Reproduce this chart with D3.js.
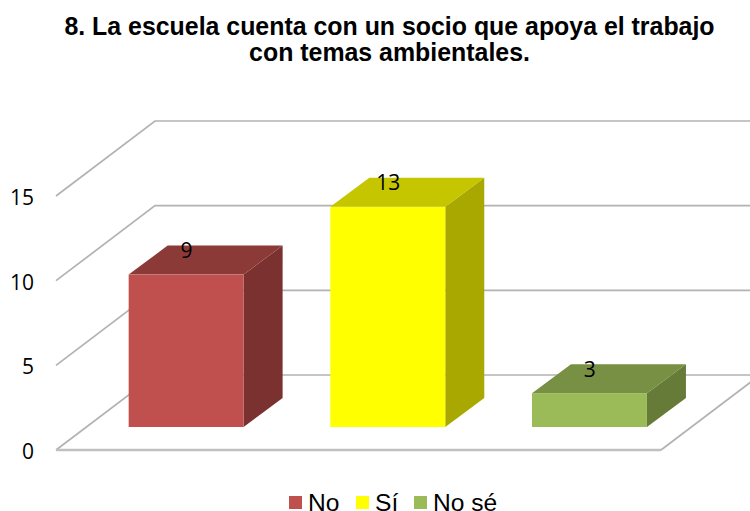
<!DOCTYPE html>
<html>
<head>
<meta charset="utf-8">
<style>html,body{margin:0;padding:0;background:#fff}svg{display:block}</style>
<script src="https://cdnjs.cloudflare.com/ajax/libs/d3/7.8.5/d3.min.js"></script>
</head>
<body>
<svg id="c" width="750" height="511"></svg>
<script>
const titleLines = ["8. La escuela cuenta con un socio que apoya el trabajo", "con temas ambientales."];
const categories = ["No", "Sí", "No sé"];
const barValues = [9, 13, 2];
const dataLabels = ["9", "13", "3"];
const yTicks = [0, 5, 10, 15];
const frontColors = ["#c0504d", "#ffff00", "#9bbb59"];
const topColors = ["#8c3a38", "#c6c600", "#779043"];
const sideColors = ["#7a312f", "#a8a800", "#667b38"];

const svg = d3.select("#c");
const left = 56, right = 661, base = 450;
const wallDx = 99, wallDy = -75;
const barDx = 39, barDy = -29, gapDx = 29.3, gapDy = -23;

const y = d3.scaleLinear().domain([0, 15]).range([base, 196]);
const x = d3.scaleBand().domain(categories).range([left + gapDx, right + gapDx]).paddingInner(0.43).paddingOuter(0.215);

const grid = "#b2b2b2";
const gGrid = svg.append("g").attr("fill", "none").attr("stroke", grid);
yTicks.forEach(t => {
  gGrid.append("path")
    .attr("stroke-width", 1.7)
    .attr("d", d3.line()([[left, y(t)], [left + wallDx, y(t) + wallDy], [750, y(t) + wallDy]]));
});
gGrid.append("path").attr("stroke-width", 2.6).attr("stroke", "#c0c0c0")
  .attr("d", d3.line()([[left, base], [right, base]]));
gGrid.append("path").attr("stroke-width", 1.7)
  .attr("d", d3.line()([[right, base], [right + wallDx, base + wallDy]]));

const bars = svg.append("g").selectAll("g").data(categories).join("g");
const poly = d3.line();
bars.each(function (c, i) {
  const g = d3.select(this);
  const x0 = x(c), x1 = x0 + x.bandwidth();
  const yb = base + gapDy, yt = yb - (base - y(barValues[i]));
  g.append("path").attr("fill", sideColors[i])
    .attr("d", poly([[x1, yt], [x1 + barDx, yt + barDy], [x1 + barDx, yb + barDy], [x1, yb]]) + "Z");
  g.append("path").attr("fill", topColors[i])
    .attr("d", poly([[x0, yt], [x0 + barDx, yt + barDy], [x1 + barDx, yt + barDy], [x1, yt]]) + "Z");
  g.append("rect").attr("x", x0).attr("y", yt).attr("width", x.bandwidth()).attr("height", yb - yt).attr("fill", frontColors[i]);
  g.append("text").attr("x", (x0 + x1) / 2 + 0.4).attr("y", yt + barDy + 12.5)
    .attr("text-anchor", "middle").attr("font-family", "Open Sans").attr("font-size", 21).attr("fill", "#000")
    .text(dataLabels[i]);
});

svg.append("g").selectAll("text").data(yTicks).join("text")
  .attr("x", 34).attr("y", d => y(d) + 9).attr("text-anchor", "end")
  .attr("font-family", "Open Sans").attr("font-size", 21).attr("fill", "#000").text(d => d);

svg.append("g").selectAll("text").data(titleLines).join("text")
  .attr("x", 389.5).attr("y", (d, i) => 35 + i * 26).attr("text-anchor", "middle")
  .attr("font-family", "Liberation Sans").attr("font-weight", "bold").attr("font-size", 24.9).attr("fill", "#000").text(d => d);

const legendX = [289, 356, 414];
const lg = svg.append("g").selectAll("g").data(categories).join("g");
lg.append("rect").attr("x", (d, i) => legendX[i]).attr("y", 496).attr("width", 13).attr("height", 13).attr("fill", (d, i) => frontColors[i]);
lg.append("text").attr("x", (d, i) => legendX[i] + 19).attr("y", 511).attr("font-family", "Liberation Sans").attr("font-size", 24.6).attr("fill", "#000").text(d => d);
</script>
</body>
</html>
